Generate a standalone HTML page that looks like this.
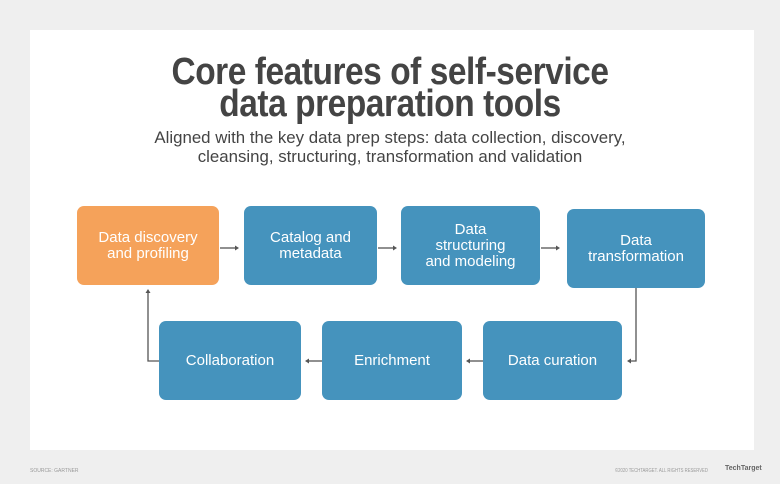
<!DOCTYPE html>
<html><head><style>
body{margin:0;width:780px;height:484px;background:#efefef;position:relative;overflow:hidden;font-family:"Liberation Sans",sans-serif}
.panel{position:absolute;left:30px;top:30px;width:724px;height:420px;background:#fff}
.t{position:absolute;left:0;width:780px;text-align:center;color:#444}
.title{top:56px;font-weight:bold;font-size:38px;line-height:32px;transform:scaleX(0.88);letter-spacing:-0.5px}
.sub{top:128px;font-size:17px;line-height:19px;transform:scaleX(0.99);color:#444}
.b{position:absolute;background:#4593bd;border-radius:7px;color:#fff;font-size:15px;line-height:16px;display:flex;align-items:center;justify-content:center;text-align:center}
.o{background:#f5a25a}
.ft{position:absolute;font-size:5px;color:#999;white-space:nowrap}
</style></head><body>
<div class="panel"></div>
<div class="t title">Core features of self-service<br>data preparation tools</div>
<div class="t sub">Aligned with the key data prep steps: data collection, discovery,<br>cleansing, structuring, transformation and validation</div>
<svg style="position:absolute;left:0;top:0" width="780" height="484">
<g stroke="#555" stroke-width="1.3" fill="none">
<path d="M220 248H236"/><path d="M378 248H394"/><path d="M541 248H557"/>
<path d="M636 288V361H630"/><path d="M483 361H469"/><path d="M322 361H308"/>
<path d="M159 361H148V293"/>
</g>
<g fill="#555">
<path d="M239 248l-4-2.5v5z"/><path d="M397 248l-4-2.5v5z"/><path d="M560 248l-4-2.5v5z"/>
<path d="M627 361l4-2.5v5z"/><path d="M466 361l4-2.5v5z"/><path d="M305 361l4-2.5v5z"/>
<path d="M148 289l-2.5 4h5z"/>
</g>
</svg>
<div class="b o" style="left:77px;top:206px;width:142px;height:79px">Data discovery<br>and profiling</div>
<div class="b" style="left:244px;top:206px;width:133px;height:79px">Catalog and<br>metadata</div>
<div class="b" style="left:401px;top:206px;width:139px;height:79px">Data<br>structuring<br>and modeling</div>
<div class="b" style="left:567px;top:209px;width:138px;height:79px">Data<br>transformation</div>
<div class="b" style="left:159px;top:321px;width:142px;height:79px">Collaboration</div>
<div class="b" style="left:322px;top:321px;width:140px;height:79px">Enrichment</div>
<div class="b" style="left:483px;top:321px;width:139px;height:79px">Data curation</div>
<div class="ft" style="left:30px;top:468px">SOURCE: GARTNER</div>
<div class="ft" style="left:615px;top:468px;transform:scaleX(0.85);transform-origin:left">©2020 TECHTARGET. ALL RIGHTS RESERVED</div>
<div class="ft" style="left:725px;top:465px;font-size:7px;color:#666;font-weight:bold">TechTarget</div>
</body></html>
